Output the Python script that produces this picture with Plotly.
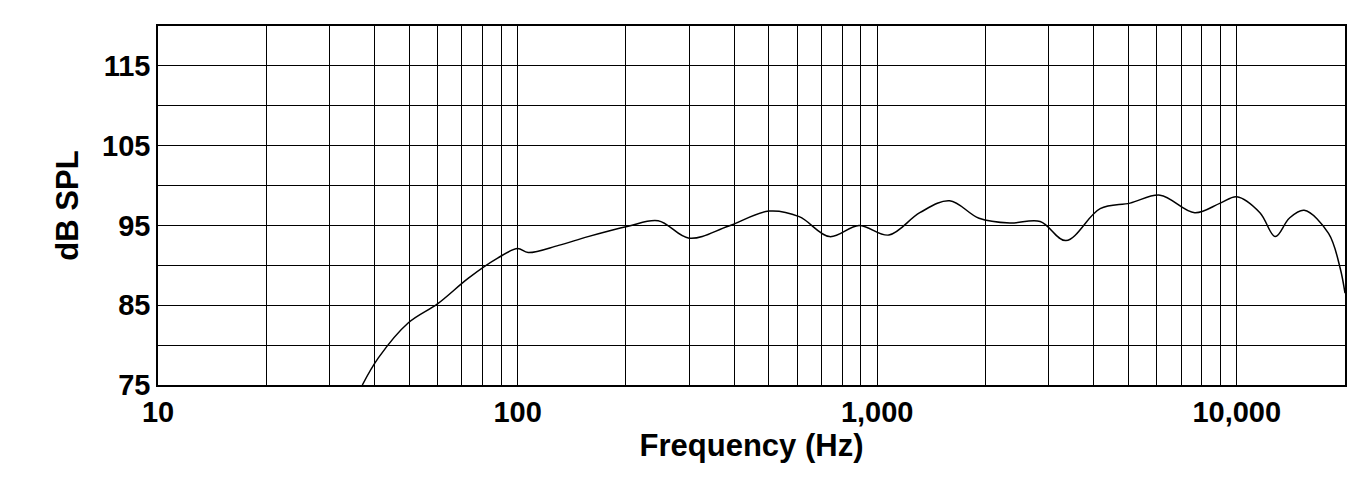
import plotly.graph_objects as go

freq = [37, 41, 49.7, 60, 73, 88, 100, 107, 130, 157, 203, 246, 300, 385, 500, 607, 737, 890,
        1078, 1314, 1590, 1920, 2340, 2840, 3350, 4170, 5050, 6120, 7640, 9000, 10000, 11600,
        12800, 14000, 15400, 18000, 19400, 20000]
spl = [75, 78.4, 82.8, 85.2, 88.4, 90.9, 92.1, 91.6, 92.5, 93.6, 94.9, 95.6, 93.4, 94.9, 96.8,
       96.1, 93.6, 95, 93.8, 96.6, 98.1, 95.9, 95.3, 95.5, 93.1, 97.1, 97.8, 98.8, 96.6, 97.8,
       98.6, 96.6, 93.6, 95.9, 96.9, 94, 89.6, 86.5]
x_ticks = [10, 100, 1000, 10000]
x_labels = ["10", "100", "1,000", "10,000"]
y_ticks = [75, 85, 95, 105, 115]

minor_x = [m * d for d in (10, 100, 1000, 10000) for m in range(2, 10) if m * d <= 20000]

font = "Liberation Sans"
fig = go.Figure(go.Scatter(x=freq, y=spl, mode="lines", line=dict(color="black", width=1.5),
                           line_shape="spline", showlegend=False))
fig.update_layout(
    width=1356, height=481, paper_bgcolor="white", plot_bgcolor="white",
    margin=dict(l=150, r=19, t=18, b=104, autoexpand=False),
    font=dict(family=font, size=29, color="black"),
)
fig.update_xaxes(type="log", range=[1, 4.30103], tickvals=x_ticks, ticktext=x_labels,
                 automargin=False,
                 showgrid=True, gridcolor="black", gridwidth=1,
                 minor=dict(tickvals=minor_x, showgrid=True, gridcolor="black", gridwidth=0.8),
                 showline=True, linecolor="black", linewidth=1.5, mirror=True,
                 tickfont=dict(family=font, size=29, color="black", weight="bold"),
                 title=dict(text="<b>Frequency (Hz)</b>", font=dict(family=font, size=31), standoff=4))
fig.update_yaxes(range=[75, 120], tickvals=y_ticks, automargin=False,
                 showgrid=True, gridcolor="black", gridwidth=1,
                 minor=dict(tickvals=[80, 90, 100, 110], showgrid=True, gridcolor="black", gridwidth=1),
                 showline=True, linecolor="black", linewidth=1.5, mirror=True,
                 tickfont=dict(family=font, size=29, color="black", weight="bold"),
                 title=dict(text="<b>dB SPL</b>", font=dict(family=font, size=31), standoff=14))
fig.write_html("out.html")
